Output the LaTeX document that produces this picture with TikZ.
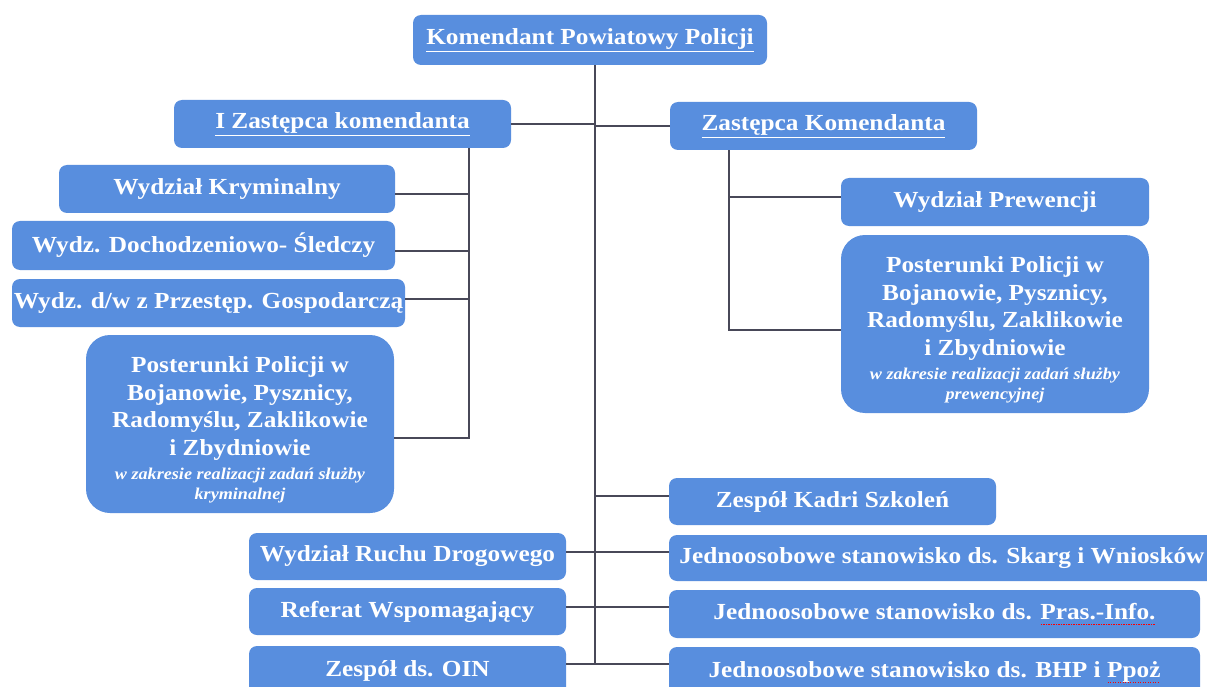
\documentclass[tikz,border=0pt]{standalone}
\usepackage{fontspec}
\setmainfont[FakeStretch=1.1]{Liberation Serif}
\definecolor{boxblue}{RGB}{88,142,222}
\definecolor{linegray}{RGB}{72,72,88}
\newcommand\redul[1]{\setbox0\hbox{#1}\rlap{\color{red}\leaders\hbox to 2.5pt{\hss\vrule height -4pt depth 4.8pt width 1.2pt\hss}\hskip\wd0}\box0}
\newcommand\whul[1]{\underline{#1}}
\newcommand\smallnote[2]{{\fontsize{16.5}{19.5}\selectfont\itshape\bfseries\begin{tabular}[t]{@{}c@{}}#1\\#2\end{tabular}}}
\tikzset{
  orgbox/.style={draw=none, fill=boxblue, rounded corners=8pt, text=white,
    font=\bfseries\fontsize{23}{27}\selectfont, align=center, inner xsep=0pt, inner ysep=2pt},
  bigbox/.style={orgbox, rounded corners=24pt, font=\bfseries\fontsize{23}{27.5}\selectfont},
  link/.style={draw=linegray, line width=2.2pt}
}
\begin{document}
\begin{tikzpicture}[x=1pt,y=-1pt]
\clip (0,0) rectangle (1207,687);
\fill[white] (0,0) rectangle (1207,687);
% coordinates of buses
\coordinate (trunk) at (595,0);
\coordinate (lbus) at (469,0);
\coordinate (rbus) at (729,0);
% nodes
\node[orgbox, minimum width=354pt, minimum height=50pt] (top) at (590,40) {\whul{Komendant Powiatowy Policji}};
\node[orgbox, minimum width=337pt, minimum height=48pt] (iz) at (342.5,124) {\whul{I Zastępca komendanta}};
\node[orgbox, minimum width=307pt, minimum height=48pt] (zk) at (823.5,126) {\whul{Zastępca Komendanta}};
\node[orgbox, minimum width=336pt, minimum height=48pt] (wk) at (227,189) {Wydział Kryminalny};
\node[orgbox, minimum width=383pt, minimum height=49pt] (wd) at (203.5,245.5) {Wydz. Dochodzeniowo- Śledczy};
\node[orgbox, minimum width=393pt, minimum height=48pt] (wg) at (208.5,303) {Wydz. d/w z Przestęp. Gospodarczą};
\node[bigbox, minimum width=308pt, minimum height=178pt] (pl) at (240,424) {\rule{0pt}{30pt}Posterunki Policji w\\Bojanowie, Pysznicy,\\Radomyślu, Zaklikowie\\i Zbydniowie\\[-3pt]\smallnote{w zakresie realizacji zadań służby}{kryminalnej}};
\node[orgbox, minimum width=308pt, minimum height=48pt] (wp) at (995,202) {Wydział Prewencji};
\node[bigbox, minimum width=308pt, minimum height=178pt] (pr) at (995,324) {\rule{0pt}{30pt}Posterunki Policji w\\Bojanowie, Pysznicy,\\Radomyślu, Zaklikowie\\i Zbydniowie\\[-3pt]\smallnote{w zakresie realizacji zadań służby}{prewencyjnej}};
\node[orgbox, minimum width=327pt, minimum height=47pt] (zks) at (832.5,501.5) {Zespół Kadri Szkoleń};
\node[orgbox, minimum width=546pt, minimum height=46pt] (js) at (942,558) {Jednoosobowe stanowisko ds. Skarg i Wniosków};
\node[orgbox, minimum width=531pt, minimum height=48pt] (jp) at (934.5,614) {Jednoosobowe stanowisko ds. \redul{Pras.-Info.}};
\node[orgbox, minimum width=531pt, minimum height=50pt] (jb) at (934.5,672) {Jednoosobowe stanowisko ds. BHP i \redul{Ppoż}};
\node[orgbox, minimum width=317pt, minimum height=47pt] (wr) at (407.5,556.5) {Wydział Ruchu Drogowego};
\node[orgbox, minimum width=317pt, minimum height=47pt] (rw) at (407.5,611.5) {Referat Wspomagający};
\node[orgbox, minimum width=317pt, minimum height=50pt] (zo) at (407.5,671) {Zespół ds. OIN};
% connectors
\draw[link] (top.south -| trunk) -- ([yshift=7pt]zo.east -| trunk);
\draw[link] (iz.east) -- (iz.east -| trunk);
\draw[link] (zk.west) -- (zk.west -| trunk);
\draw[link] (iz.south -| lbus) |- ([yshift=-14pt]pl.east);
\draw[link] ([yshift=-5pt]wk.east) -- ([yshift=-5pt]wk.east -| lbus);
\draw[link] ([yshift=-5.5pt]wd.east) -- ([yshift=-5.5pt]wd.east -| lbus);
\draw[link] ([yshift=4pt]wg.east) -- ([yshift=4pt]wg.east -| lbus);
\draw[link] (zk.south -| rbus) |- ([yshift=-6pt]pr.west);
\draw[link] ([yshift=5pt]wp.west) -- ([yshift=5pt]wp.west -| rbus);
\draw[link] ([yshift=5.5pt]zks.west) -- ([yshift=5.5pt]zks.west -| trunk);
\draw[link] ([yshift=6pt]js.west) -- ([yshift=6pt]js.west -| trunk);
\draw[link] ([yshift=7pt]jp.west) -- ([yshift=7pt]jp.west -| trunk);
\draw[link] ([yshift=8pt]jb.west) -- ([yshift=8pt]jb.west -| trunk);
\draw[link] ([yshift=4.5pt]wr.east) -- ([yshift=4.5pt]wr.east -| trunk);
\draw[link] ([yshift=4.5pt]rw.east) -- ([yshift=4.5pt]rw.east -| trunk);
\draw[link] ([yshift=7pt]zo.east) -- ([yshift=7pt]zo.east -| trunk);
\end{tikzpicture}
\end{document}
